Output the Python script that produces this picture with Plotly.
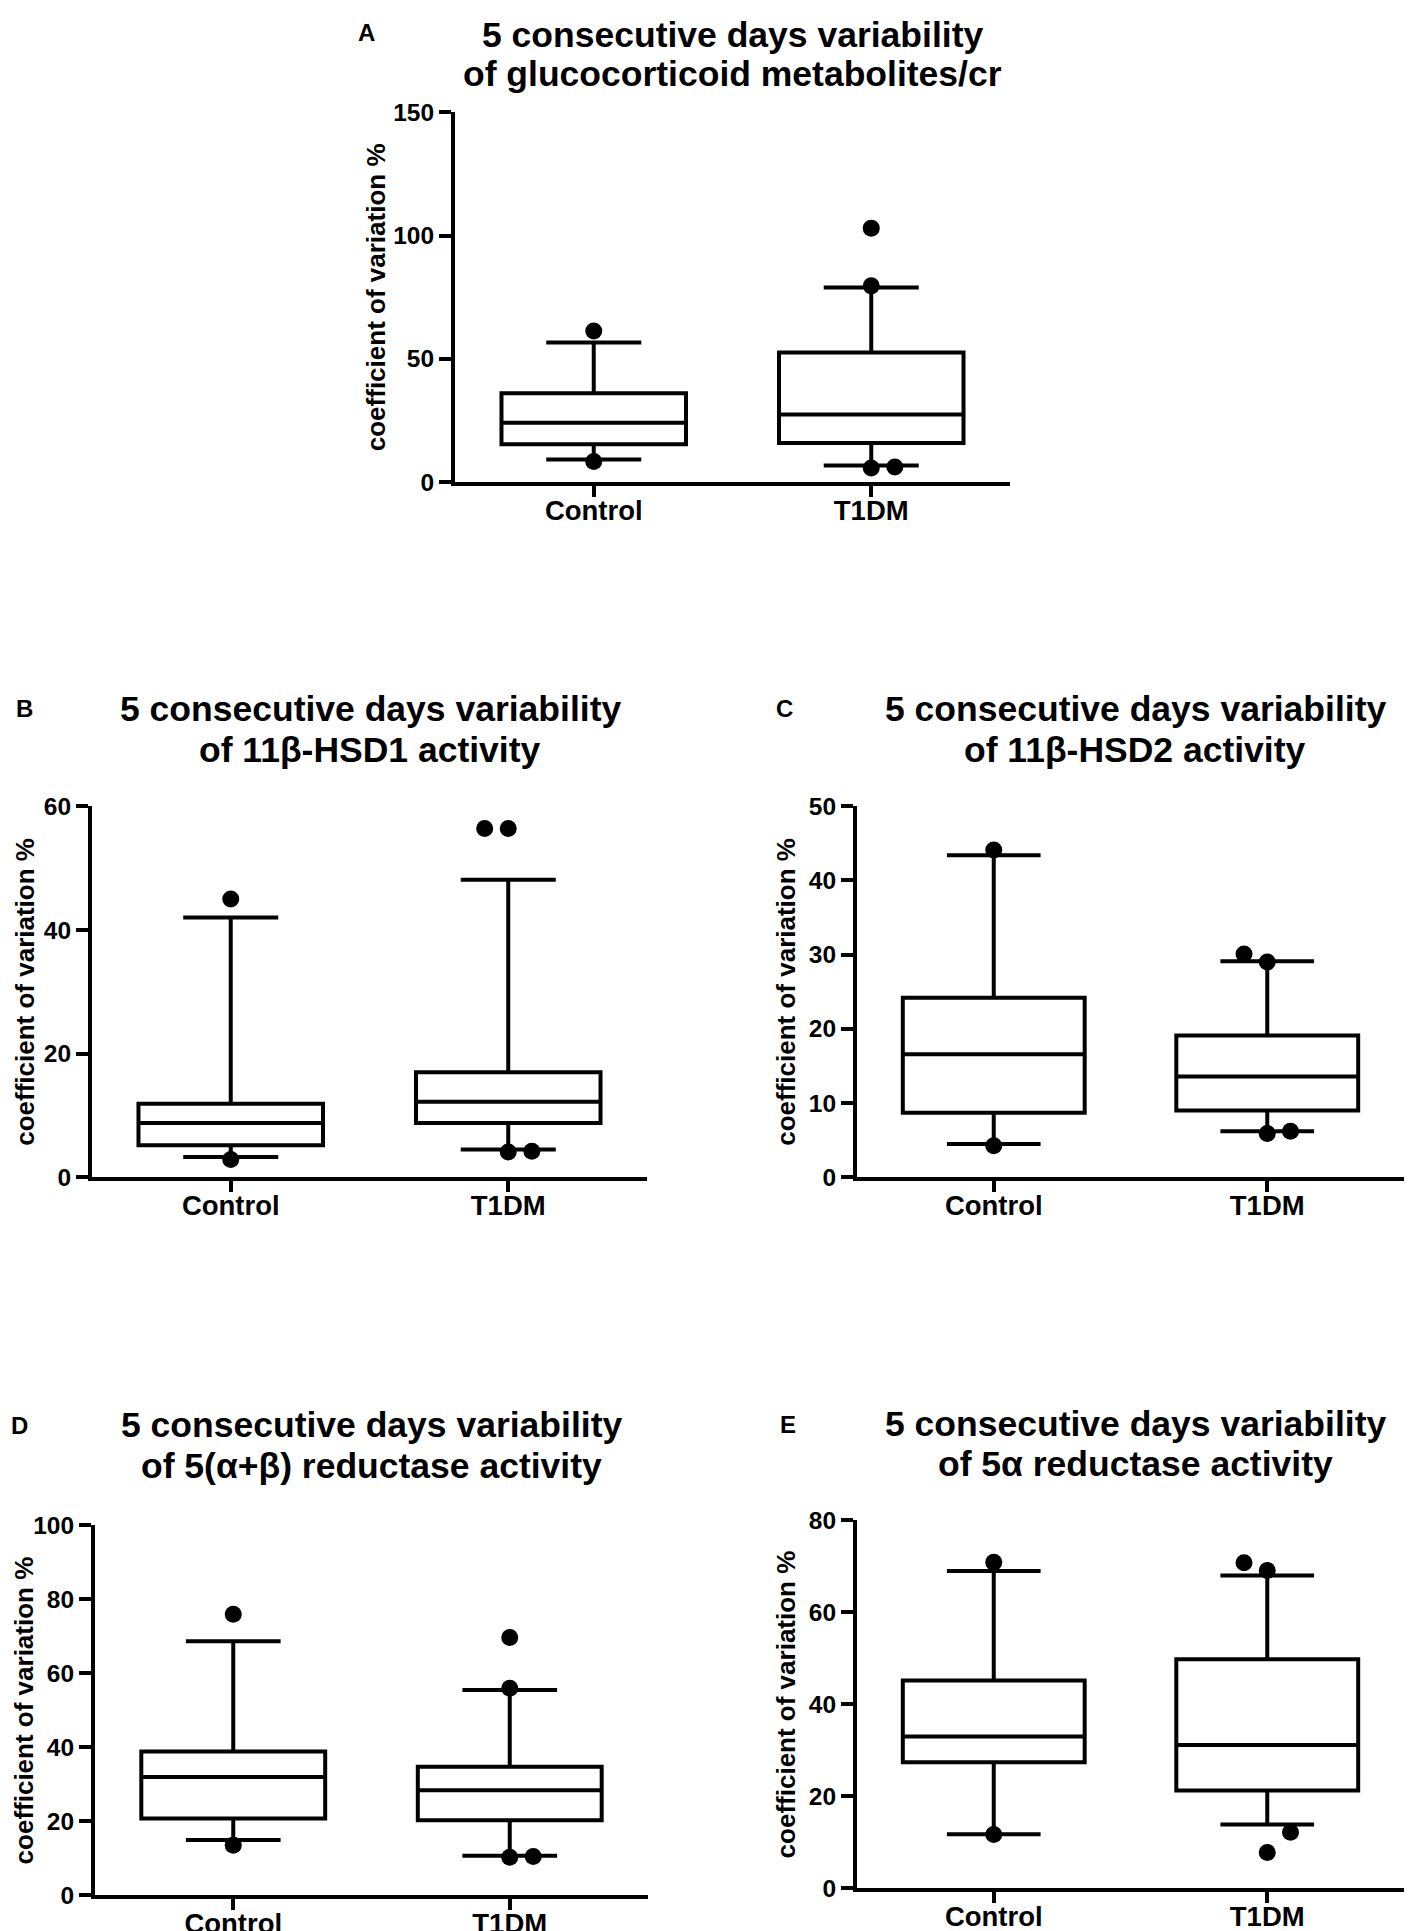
import plotly.graph_objects as go

groups = ["Control", "T1DM"]

# A: glucocorticoid metabolites/cr
lo_a = [9.2, 6.8]
q1_a = [15.4, 15.9]
med_a = [24.1, 27.5]
q3_a = [36.1, 52.6]
hi_a = [56.6, 78.9]
out_ctrl_a = [61.3, 8.4]
out_t1dm_a = [103.0, 79.6, 5.8, 6.2]

# B: 11b-HSD1
lo_b = [3.3, 4.5]
q1_b = [5.2, 8.8]
med_b = [8.8, 12.2]
q3_b = [11.9, 17.0]
hi_b = [42.0, 48.1]
out_ctrl_b = [45.0, 2.9]
out_t1dm_b = [56.4, 56.4, 4.1, 4.2]

# C: 11b-HSD2
lo_c = [4.5, 6.2]
q1_c = [8.7, 9.0]
med_c = [16.6, 13.6]
q3_c = [24.2, 19.1]
hi_c = [43.4, 29.1]
out_ctrl_c = [44.1, 4.25]
out_t1dm_c = [30.1, 29.0, 5.9, 6.2]

# D: 5(a+b) reductase
lo_d = [15.0, 10.7]
q1_d = [20.8, 20.3]
med_d = [32.0, 28.4]
q3_d = [38.9, 34.8]
hi_d = [68.7, 55.5]
out_ctrl_d = [76.0, 13.6]
out_t1dm_d = [69.7, 56.0, 10.3, 10.5]

# E: 5a reductase
lo_e = [11.8, 13.9]
q1_e = [27.4, 21.3]
med_e = [33.0, 31.2]
q3_e = [45.2, 49.8]
hi_e = [69.0, 68.0]
out_ctrl_e = [70.9, 11.7]
out_t1dm_e = [70.8, 69.1, 12.2, 7.8]

# layout is measured in page pixels of a 1412x1931 sheet; the html body
# keeps a margin so the figure is placed a little in from the corner
PAD_X = 8
W, H = 1396, 1931
Y_SCALE, Y_SHIFT = 1.0172, -23.5


def page_y(y):
    return Y_SCALE * y + Y_SHIFT


def fx(x):
    return min(1.0, (x - PAD_X) / W)


def fy(y):
    return 1 - page_y(y) / H


def dodge(values, median, span, step=0.085, thresh=0.06):
    """spread close outliers sideways like prism does"""
    pts = []
    above = sorted(v for v in values if v > median)
    below = sorted(v for v in values if v <= median)
    for vals, sign in ((above, -1), (below, 1)):
        k, prev = 0, None
        for v in vals:
            if prev is not None and v - prev < thresh * span:
                k += 1
            else:
                k = 0
            pts.append((sign * k * step, v))
            prev = v
    return pts


panels = [
    dict(letter="A", line1="5 consecutive days variability",
         line2="of glucocorticoid metabolites/cr",
         stats=(lo_a, q1_a, med_a, q3_a, hi_a), outs=(out_ctrl_a, out_t1dm_a),
         ymax=150, dtick=50, box=(455, 1010, 114, 483),
         t1=19, t2=58.5, tx=732, lx=366, ly=16.7, ytx=376),
    dict(letter="B", line1="5 consecutive days variability",
         line2="of 11β-HSD1 activity",
         stats=(lo_b, q1_b, med_b, q3_b, hi_b), outs=(out_ctrl_b, out_t1dm_b),
         ymax=60, dtick=20, box=(92, 647, 806, 1176),
         t1=708, t2=749, tx=370, lx=24, ly=708, ytx=25),
    dict(letter="C", line1="5 consecutive days variability",
         line2="of 11β-HSD2 activity",
         stats=(lo_c, q1_c, med_c, q3_c, hi_c), outs=(out_ctrl_c, out_t1dm_c),
         ymax=50, dtick=10, box=(857, 1412, 806, 1176),
         t1=708, t2=749, tx=1135, lx=784, ly=708, ytx=786),
    dict(letter="D", line1="5 consecutive days variability",
         line2="of 5(α+β) reductase activity",
         stats=(lo_d, q1_d, med_d, q3_d, hi_d), outs=(out_ctrl_d, out_t1dm_d),
         ymax=100, dtick=20, box=(95, 648, 1523, 1892),
         t1=1422, t2=1463, tx=372, lx=19, ly=1422, ytx=24),
    dict(letter="E", line1="5 consecutive days variability",
         line2="of 5α reductase activity",
         stats=(lo_e, q1_e, med_e, q3_e, hi_e), outs=(out_ctrl_e, out_t1dm_e),
         ymax=80, dtick=20, box=(857, 1412, 1518, 1885),
         t1=1421, t2=1461, tx=1135, lx=788, ly=1421, ytx=786),
]

arial = "Liberation Sans, Arial, sans-serif"
fig = go.Figure()
annotations = []

for n, p in enumerate(panels, start=1):
    xa = "x" if n == 1 else f"x{n}"
    ya = "y" if n == 1 else f"y{n}"
    lo, q1, med, q3, hi = p["stats"]
    fig.add_trace(go.Box(
        x=[0, 1], q1=q1, median=med, q3=q3, lowerfence=lo, upperfence=hi,
        width=0.665, whiskerwidth=0.515, boxpoints=False,
        line=dict(color="black", width=4), fillcolor="white",
        showlegend=False, xaxis=xa, yaxis=ya,
    ))
    xs, ys = [], []
    for g, vals in enumerate(p["outs"]):
        for off, v in dodge(vals, med[g], p["ymax"]):
            xs.append(g + off)
            ys.append(v)
    fig.add_trace(go.Scatter(
        x=xs, y=ys, mode="markers", cliponaxis=False,
        marker=dict(color="black", size=17, line=dict(width=0)),
        showlegend=False, xaxis=xa, yaxis=ya,
    ))

    left, right, top, bottom = p["box"]
    xkey = "xaxis" if n == 1 else f"xaxis{n}"
    ykey = "yaxis" if n == 1 else f"yaxis{n}"
    fig.update_layout(**{
        xkey: dict(domain=[fx(left), fx(right)], anchor=ya, range=[-0.5, 1.5],
                   tickvals=[0, 1], ticktext=groups, ticks="outside", ticklen=11,
                   tickwidth=3.5, tickcolor="black", showline=True, linewidth=4,
                   linecolor="black", showgrid=False, zeroline=False,
                   ticklabelstandoff=-10,
                   tickfont=dict(family=arial, size=27.5, color="black", weight="bold")),
        ykey: dict(domain=[fy(bottom), fy(top)], anchor=xa, range=[0, p["ymax"]],
                   tick0=0, dtick=p["dtick"], ticks="outside", ticklen=12,
                   tickwidth=3.5, tickcolor="black", showline=True, linewidth=4,
                   linecolor="black", showgrid=False, zeroline=False,
                   ticklabelstandoff=0,
                   tickfont=dict(family=arial, size=24.5, color="black", weight="bold")),
    })

    # keep the top title inside the sheet
    lift = max(0.0, 14 - page_y(p["t1"] + 1))
    for txt, yy in ((p["line1"], p["t1"]), (p["line2"], p["t2"])):
        annotations.append(dict(
            text=txt, x=fx(p["tx"]), y=fy(yy + 1) - lift / H,
            xref="paper", yref="paper",
            xanchor="center", yanchor="middle", showarrow=False,
            font=dict(family=arial, size=35.5, color="black", weight="bold")))
    annotations.append(dict(
        text=p["letter"], x=fx(p["lx"]), y=fy(p["ly"] + 1) - lift / H,
        xref="paper", yref="paper",
        xanchor="center", yanchor="middle", showarrow=False,
        font=dict(family=arial, size=24, color="black", weight="bold")))
    annotations.append(dict(
        text="coefficient of variation %", textangle=-90,
        x=fx(p["ytx"]), y=fy((top + bottom) / 2), xref="paper", yref="paper",
        xanchor="center", yanchor="middle", showarrow=False,
        font=dict(family=arial, size=26, color="black", weight="bold")))

fig.update_layout(
    width=W, height=H, margin=dict(l=0, r=0, t=0, b=0),
    paper_bgcolor="white", plot_bgcolor="white",
    boxmode="overlay", annotations=annotations,
)

fig.write_html("out.html")
